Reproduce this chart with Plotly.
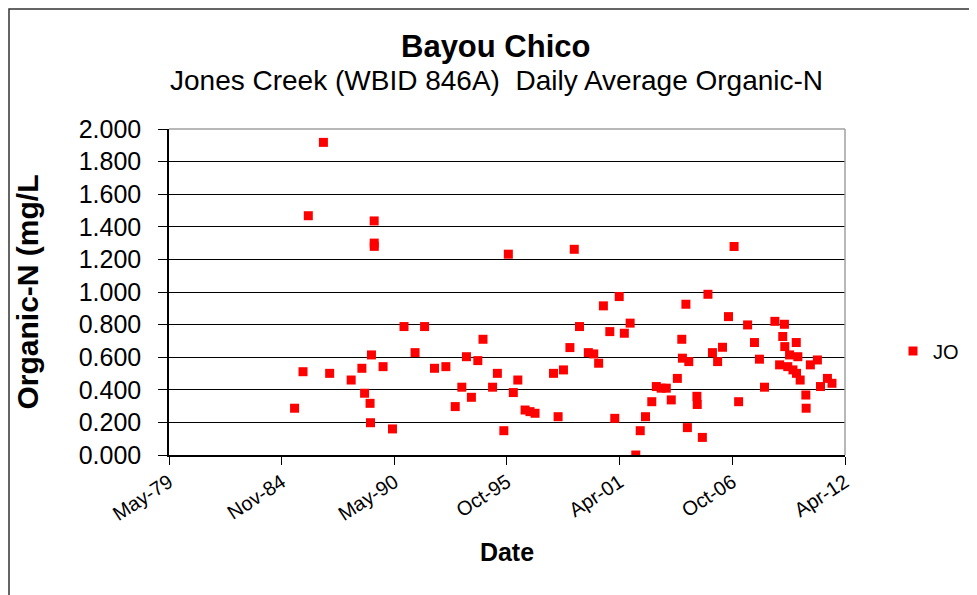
import plotly.graph_objects as go

# ---- data ----
dates = [
    "1985-07-01", "1985-11-28", "1986-03-02", "1986-11-25", "1987-03-16",
    "1988-04-01", "1988-10-08", "1988-11-25", "1989-03-02", "1989-03-10",
    "1989-03-27", "1989-05-14", "1989-05-15", "1989-05-16", "1989-10-19",
    "1990-04-04", "1990-10-26", "1991-05-10", "1991-10-26", "1992-04-19",
    "1992-11-07", "1993-04-22", "1993-08-17", "1993-11-07", "1994-02-03",
    "1994-05-28", "1994-08-28", "1995-02-14", "1995-05-10", "1995-09-02",
    "1995-11-21", "1996-02-17", "1996-05-07", "1996-09-13", "1996-12-09",
    "1997-03-09", "1998-01-30", "1998-04-22", "1998-07-26", "1998-11-18",
    "1999-02-03", "1999-05-07", "1999-10-11", "2000-01-15", "2000-04-11",
    "2000-07-04", "2000-10-26", "2001-01-22", "2001-04-11", "2001-07-11",
    "2001-10-22", "2002-01-30", "2002-04-19", "2002-07-22", "2002-11-10",
    "2003-01-30", "2003-04-26", "2003-07-26", "2003-10-22", "2004-02-07",
    "2004-04-26", "2004-05-07", "2004-07-08", "2004-08-03", "2004-08-28",
    "2005-01-19", "2005-01-25", "2005-04-26", "2005-08-03", "2005-10-22",
    "2006-01-22", "2006-04-19", "2006-08-03", "2006-11-10", "2007-01-30",
    "2007-07-08", "2007-11-07", "2008-02-03", "2008-05-03", "2008-11-03",
    "2009-01-26", "2009-03-23", "2009-04-22", "2009-04-28", "2009-06-20",
    "2009-07-22", "2009-09-20", "2009-11-18", "2009-11-22", "2009-12-16",
    "2010-01-26", "2010-05-07", "2010-05-12", "2010-07-26", "2010-11-28",
    "2011-01-22", "2011-05-25", "2011-08-14",
]
organic_n = [
    0.287, 0.511, 1.468, 1.918, 0.501,
    0.460, 0.532, 0.379, 0.317, 0.198,
    0.614, 1.436, 1.300, 1.280, 0.542,
    0.160, 0.788, 0.628, 0.788, 0.532,
    0.542, 0.297, 0.416, 0.603, 0.354,
    0.579, 0.710, 0.416, 0.501, 0.149,
    1.232, 0.383, 0.460, 0.276, 0.266,
    0.256, 0.501, 0.235, 0.522, 0.659,
    1.262, 0.788, 0.628, 0.620, 0.563,
    0.915, 0.757, 0.225, 0.972, 0.747,
    0.809, 0.000, 0.149, 0.235, 0.327,
    0.420, 0.410, 0.410, 0.338, 0.470,
    0.710, 0.594, 0.925, 0.168, 0.573,
    0.360, 0.310, 0.108, 0.986, 0.628,
    0.573, 0.661, 0.849, 1.279, 0.327,
    0.798, 0.690, 0.588, 0.416, 0.820,
    0.553, 0.727, 0.802, 0.665, 0.542,
    0.614, 0.522, 0.690, 0.501, 0.603,
    0.460, 0.368, 0.287, 0.553, 0.583,
    0.420, 0.470, 0.440,
]
x_tick_dates = ["1979-05-25", "1984-11-14", "1990-05-08", "1995-10-26",
                "2001-04-18", "2006-10-10", "2012-04-01"]
x_tick_labels = ["May-79", "Nov-84", "May-90", "Oct-95", "Apr-01", "Oct-06", "Apr-12"]
y_tick_vals = [0.0, 0.2, 0.4, 0.6, 0.8, 1.0, 1.2, 1.4, 1.6, 1.8, 2.0]
y_tick_labels = ["0.000", "0.200", "0.400", "0.600", "0.800", "1.000",
                 "1.200", "1.400", "1.600", "1.800", "2.000"]
series_name = "JO"

FONT = "Arial, Liberation Sans, sans-serif"

fig = go.Figure()
fig.add_trace(go.Scatter(
    x=dates, y=organic_n, mode="markers", name=series_name,
    marker=dict(symbol="square", size=9, color="#ff0000", line=dict(width=0)),
))

# the page body adds an 8px offset, so figure coords = screen coords - 8
OFF = 8
W, H = 977 - OFF, 595 - OFF
L, R, T, B = 169 - OFF, 845 - OFF, 129 - OFF, 455 - OFF
pw, ph = R - L, B - T

def px_x(p):  # screen pixel -> paper x
    return (p - OFF - L) / pw

def px_y(p):  # screen pixel -> paper y
    return (B - (p - OFF)) / ph

fig.update_layout(
    width=W, height=H,
    margin=dict(l=L, r=W - R, t=T, b=H - B, pad=0),
    paper_bgcolor="white", plot_bgcolor="white",
    font=dict(family=FONT, color="black"),
    showlegend=True,
    legend=dict(x=px_x(893), y=px_y(351), xanchor="left", yanchor="middle",
                font=dict(size=20, family=FONT, color="black"),
                bgcolor="rgba(0,0,0,0)", itemwidth=30),
    xaxis=dict(
        type="date",
        range=[x_tick_dates[0], x_tick_dates[-1]],
        tickmode="array", tickvals=x_tick_dates, ticktext=x_tick_labels,
        tickangle=-33, tickfont=dict(size=20, family=FONT),
        ticks="outside", ticklen=8, tickcolor="black", tickwidth=1,
        ticklabelstandoff=-2,
        showline=True, linecolor="black", linewidth=1.5,
        showgrid=False, zeroline=False,
        title=dict(text="<b>Date</b>", font=dict(size=25, family=FONT), standoff=20),
    ),
    yaxis=dict(
        range=[0, 2.0],
        tickmode="array", tickvals=y_tick_vals, ticktext=y_tick_labels,
        tickfont=dict(size=25, family=FONT),
        ticks="outside", ticklen=9, tickcolor="black", tickwidth=1,
        ticklabelstandoff=12,
        showline=True, linecolor="black", linewidth=1.5,
        showgrid=True, gridcolor="black", gridwidth=1,
        zeroline=False,
        title=dict(text="<b>Organic-N (mg/L</b>", font=dict(size=30, family=FONT), standoff=31),
    ),
    annotations=[
        dict(text="<b>Bayou Chico</b>", xref="paper", yref="paper",
             x=px_x(495), y=px_y(47), xanchor="center", yanchor="middle",
             showarrow=False, font=dict(size=31, family=FONT, color="black")),
        dict(text="Jones Creek (WBID 846A)  Daily Average Organic-N", xref="paper", yref="paper",
             x=px_x(496), y=px_y(80), xanchor="center", yanchor="middle",
             showarrow=False, font=dict(size=28, family=FONT, color="black")),
    ],
    shapes=[
        # grey plot-area border (top and right)
        dict(type="line", xref="paper", yref="paper", x0=0, x1=1, y0=1, y1=1,
             line=dict(color="#a0a0a0", width=1.5), layer="above"),
        dict(type="line", xref="paper", yref="paper", x0=1, x1=1, y0=0, y1=1,
             line=dict(color="#a0a0a0", width=1.5), layer="above"),
        # outer chart frame
        dict(type="rect", xref="paper", yref="paper",
             x0=px_x(9), x1=px_x(1000), y0=px_y(9), y1=px_y(640),
             line=dict(color="#333333", width=1.5), layer="below"),
    ],
)

fig.write_html("out.html")
